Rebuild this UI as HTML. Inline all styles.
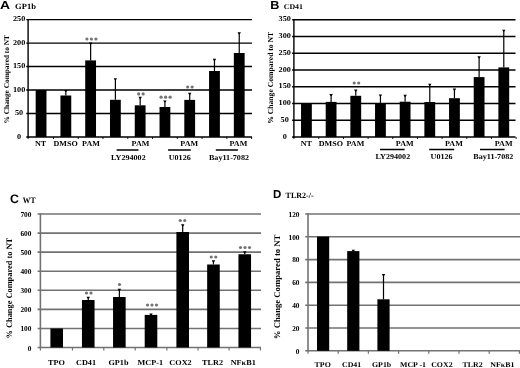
<!DOCTYPE html>
<html><head><meta charset="utf-8"><style>
html,body{margin:0;padding:0;background:#fff;}
body{width:520px;height:368px;overflow:hidden;}
svg{display:block;filter:grayscale(1);}
text{text-rendering:geometricPrecision;}
</style></head><body>
<svg width="520" height="368" viewBox="0 0 520 368">
<rect width="520" height="368" fill="#fff"/>
<line x1="26.30" y1="113.52" x2="252.00" y2="113.52" stroke="#000" stroke-width="1.4"/>
<line x1="26.30" y1="90.04" x2="252.00" y2="90.04" stroke="#000" stroke-width="1.4"/>
<line x1="26.30" y1="66.56" x2="252.00" y2="66.56" stroke="#000" stroke-width="1.4"/>
<line x1="26.30" y1="43.08" x2="252.00" y2="43.08" stroke="#000" stroke-width="1.4"/>
<line x1="26.30" y1="19.60" x2="252.00" y2="19.60" stroke="#000" stroke-width="1.4"/>
<line x1="28.10" y1="18.90" x2="28.10" y2="137.70" stroke="#000" stroke-width="1.4"/>
<line x1="26.30" y1="137.00" x2="252.00" y2="137.00" stroke="#000" stroke-width="1.4"/>
<line x1="28.10" y1="137.00" x2="28.10" y2="139.00" stroke="#000" stroke-width="0.9"/>
<line x1="53.47" y1="137.00" x2="53.47" y2="139.00" stroke="#000" stroke-width="0.9"/>
<line x1="78.23" y1="137.00" x2="78.23" y2="139.00" stroke="#000" stroke-width="0.9"/>
<line x1="103.01" y1="137.00" x2="103.01" y2="139.00" stroke="#000" stroke-width="0.9"/>
<line x1="127.78" y1="137.00" x2="127.78" y2="139.00" stroke="#000" stroke-width="0.9"/>
<line x1="152.54" y1="137.00" x2="152.54" y2="139.00" stroke="#000" stroke-width="0.9"/>
<line x1="177.31" y1="137.00" x2="177.31" y2="139.00" stroke="#000" stroke-width="0.9"/>
<line x1="202.08" y1="137.00" x2="202.08" y2="139.00" stroke="#000" stroke-width="0.9"/>
<line x1="226.85" y1="137.00" x2="226.85" y2="139.00" stroke="#000" stroke-width="0.9"/>
<line x1="251.62" y1="137.00" x2="251.62" y2="139.00" stroke="#000" stroke-width="0.9"/>
<text font-size="7.5" text-anchor="middle" font-weight="bold" fill="#000" font-family='"Liberation Serif", serif' transform="translate(19.10,138.57) scale(1.1,1)">0</text>
<text font-size="7.5" text-anchor="middle" font-weight="bold" fill="#000" font-family='"Liberation Serif", serif' transform="translate(19.10,115.09) scale(1.1,1)">50</text>
<text font-size="7.5" text-anchor="middle" font-weight="bold" fill="#000" font-family='"Liberation Serif", serif' transform="translate(19.10,91.61) scale(1.1,1)">100</text>
<text font-size="7.5" text-anchor="middle" font-weight="bold" fill="#000" font-family='"Liberation Serif", serif' transform="translate(19.10,68.13) scale(1.1,1)">150</text>
<text font-size="7.5" text-anchor="middle" font-weight="bold" fill="#000" font-family='"Liberation Serif", serif' transform="translate(19.10,44.66) scale(1.1,1)">200</text>
<text font-size="7.5" text-anchor="middle" font-weight="bold" fill="#000" font-family='"Liberation Serif", serif' transform="translate(19.10,21.17) scale(1.1,1)">250</text>
<rect x="35.68" y="90.00" width="10.80" height="47.00" fill="#000"/>
<line x1="65.85" y1="90.60" x2="65.85" y2="95.50" stroke="#000" stroke-width="1.2"/>
<path d="M64.15,89.90H67.55L66.45,91.80H65.25Z" fill="#000"/>
<rect x="60.45" y="95.50" width="10.80" height="41.50" fill="#000"/>
<line x1="90.62" y1="43.20" x2="90.62" y2="60.40" stroke="#000" stroke-width="1.2"/>
<path d="M88.92,42.50H92.32L91.22,44.40H90.02Z" fill="#000"/>
<rect x="85.22" y="60.40" width="10.80" height="76.60" fill="#000"/>
<line x1="115.39" y1="78.90" x2="115.39" y2="99.80" stroke="#000" stroke-width="1.2"/>
<path d="M113.69,78.20H117.09L115.99,80.10H114.79Z" fill="#000"/>
<rect x="109.99" y="99.80" width="10.80" height="37.20" fill="#000"/>
<line x1="140.16" y1="97.50" x2="140.16" y2="105.30" stroke="#000" stroke-width="1.2"/>
<path d="M138.46,96.80H141.86L140.76,98.70H139.56Z" fill="#000"/>
<rect x="134.76" y="105.30" width="10.80" height="31.70" fill="#000"/>
<line x1="164.93" y1="101.10" x2="164.93" y2="107.00" stroke="#000" stroke-width="1.2"/>
<path d="M163.23,100.40H166.63L165.53,102.30H164.33Z" fill="#000"/>
<rect x="159.53" y="107.00" width="10.80" height="30.00" fill="#000"/>
<line x1="189.70" y1="93.50" x2="189.70" y2="99.90" stroke="#000" stroke-width="1.2"/>
<path d="M188.00,92.80H191.40L190.30,94.70H189.10Z" fill="#000"/>
<rect x="184.30" y="99.90" width="10.80" height="37.10" fill="#000"/>
<line x1="214.47" y1="59.50" x2="214.47" y2="71.00" stroke="#000" stroke-width="1.2"/>
<path d="M212.77,58.80H216.17L215.07,60.70H213.87Z" fill="#000"/>
<rect x="209.07" y="71.00" width="10.80" height="66.00" fill="#000"/>
<line x1="239.24" y1="33.00" x2="239.24" y2="53.00" stroke="#000" stroke-width="1.2"/>
<path d="M237.54,32.30H240.94L239.84,34.20H238.64Z" fill="#000"/>
<rect x="233.84" y="53.00" width="10.80" height="84.00" fill="#000"/>
<text font-size="7.35" text-anchor="middle" font-weight="bold" font-family='"Liberation Serif", serif' transform="translate(6.80,79.20) rotate(-90) scale(1.0,1)" dy="2.43">% Change Compared to NT</text>
<text font-size="11.6" text-anchor="start" font-weight="bold" fill="#000" font-family='"Liberation Sans", sans-serif' transform="translate(0.10,8.90) scale(1.2,1)">A</text>
<text font-size="8.0" text-anchor="start" font-weight="bold" fill="#000" font-family='"Liberation Serif", serif' transform="translate(15.00,9.00) scale(1.07,1)">GP1b</text>
<text font-size="7.5" text-anchor="middle" font-weight="bold" fill="#000" font-family='"Liberation Serif", serif' transform="translate(40.50,146.07) scale(1.08,1)">NT</text>
<text font-size="7.5" text-anchor="middle" font-weight="bold" fill="#000" font-family='"Liberation Serif", serif' transform="translate(65.60,146.07) scale(1.08,1)">DMSO</text>
<text font-size="7.5" text-anchor="middle" font-weight="bold" fill="#000" font-family='"Liberation Serif", serif' transform="translate(91.00,146.07) scale(1.08,1)">PAM</text>
<text font-size="7.5" text-anchor="middle" font-weight="bold" fill="#000" font-family='"Liberation Serif", serif' transform="translate(140.50,146.07) scale(1.08,1)">PAM</text>
<text font-size="7.5" text-anchor="middle" font-weight="bold" fill="#000" font-family='"Liberation Serif", serif' transform="translate(189.30,146.07) scale(1.08,1)">PAM</text>
<text font-size="7.5" text-anchor="middle" font-weight="bold" fill="#000" font-family='"Liberation Serif", serif' transform="translate(238.40,146.07) scale(1.08,1)">PAM</text>
<line x1="116.60" y1="150.00" x2="138.50" y2="150.00" stroke="#000" stroke-width="1.5"/>
<text font-size="7.5" text-anchor="middle" font-weight="bold" fill="#000" font-family='"Liberation Serif", serif' transform="translate(128.30,160.17) scale(1.08,1)">LY294002</text>
<line x1="168.10" y1="150.00" x2="190.80" y2="150.00" stroke="#000" stroke-width="1.5"/>
<text font-size="7.5" text-anchor="middle" font-weight="bold" fill="#000" font-family='"Liberation Serif", serif' transform="translate(179.70,160.17) scale(1.08,1)">U0126</text>
<line x1="215.80" y1="150.00" x2="237.90" y2="150.00" stroke="#000" stroke-width="1.5"/>
<text font-size="7.5" text-anchor="middle" font-weight="bold" fill="#000" font-family='"Liberation Serif", serif' transform="translate(229.00,160.17) scale(1.08,1)">Bay11-7082</text>
<circle cx="86.90" cy="39.00" r="1.6" fill="#747474"/>
<circle cx="91.40" cy="39.00" r="1.6" fill="#747474"/>
<circle cx="95.90" cy="39.00" r="1.6" fill="#747474"/>
<circle cx="138.65" cy="93.90" r="1.6" fill="#747474"/>
<circle cx="143.15" cy="93.90" r="1.6" fill="#747474"/>
<circle cx="161.10" cy="97.20" r="1.6" fill="#747474"/>
<circle cx="165.60" cy="97.20" r="1.6" fill="#747474"/>
<circle cx="170.10" cy="97.20" r="1.6" fill="#747474"/>
<circle cx="187.65" cy="87.00" r="1.6" fill="#747474"/>
<circle cx="192.15" cy="87.00" r="1.6" fill="#747474"/>
<line x1="292.10" y1="120.25" x2="515.50" y2="120.25" stroke="#000" stroke-width="1.4"/>
<line x1="292.10" y1="103.50" x2="515.50" y2="103.50" stroke="#000" stroke-width="1.4"/>
<line x1="292.10" y1="86.75" x2="515.50" y2="86.75" stroke="#000" stroke-width="1.4"/>
<line x1="292.10" y1="70.00" x2="515.50" y2="70.00" stroke="#000" stroke-width="1.4"/>
<line x1="292.10" y1="53.25" x2="515.50" y2="53.25" stroke="#000" stroke-width="1.4"/>
<line x1="292.10" y1="36.50" x2="515.50" y2="36.50" stroke="#000" stroke-width="1.4"/>
<line x1="292.10" y1="19.75" x2="515.50" y2="19.75" stroke="#000" stroke-width="1.4"/>
<line x1="293.90" y1="19.05" x2="293.90" y2="137.70" stroke="#000" stroke-width="1.4"/>
<line x1="292.10" y1="137.00" x2="515.50" y2="137.00" stroke="#000" stroke-width="1.4"/>
<line x1="293.90" y1="137.00" x2="293.90" y2="139.00" stroke="#000" stroke-width="0.9"/>
<line x1="318.76" y1="137.00" x2="318.76" y2="139.00" stroke="#000" stroke-width="0.9"/>
<line x1="343.44" y1="137.00" x2="343.44" y2="139.00" stroke="#000" stroke-width="0.9"/>
<line x1="368.10" y1="137.00" x2="368.10" y2="139.00" stroke="#000" stroke-width="0.9"/>
<line x1="392.77" y1="137.00" x2="392.77" y2="139.00" stroke="#000" stroke-width="0.9"/>
<line x1="417.44" y1="137.00" x2="417.44" y2="139.00" stroke="#000" stroke-width="0.9"/>
<line x1="442.12" y1="137.00" x2="442.12" y2="139.00" stroke="#000" stroke-width="0.9"/>
<line x1="466.79" y1="137.00" x2="466.79" y2="139.00" stroke="#000" stroke-width="0.9"/>
<line x1="491.45" y1="137.00" x2="491.45" y2="139.00" stroke="#000" stroke-width="0.9"/>
<line x1="516.12" y1="137.00" x2="516.12" y2="139.00" stroke="#000" stroke-width="0.9"/>
<text font-size="7.5" text-anchor="middle" font-weight="bold" fill="#000" font-family='"Liberation Serif", serif' transform="translate(284.70,138.57) scale(1.1,1)">0</text>
<text font-size="7.5" text-anchor="middle" font-weight="bold" fill="#000" font-family='"Liberation Serif", serif' transform="translate(284.70,121.82) scale(1.1,1)">50</text>
<text font-size="7.5" text-anchor="middle" font-weight="bold" fill="#000" font-family='"Liberation Serif", serif' transform="translate(284.70,105.07) scale(1.1,1)">100</text>
<text font-size="7.5" text-anchor="middle" font-weight="bold" fill="#000" font-family='"Liberation Serif", serif' transform="translate(284.70,88.32) scale(1.1,1)">150</text>
<text font-size="7.5" text-anchor="middle" font-weight="bold" fill="#000" font-family='"Liberation Serif", serif' transform="translate(284.70,71.57) scale(1.1,1)">200</text>
<text font-size="7.5" text-anchor="middle" font-weight="bold" fill="#000" font-family='"Liberation Serif", serif' transform="translate(284.70,54.83) scale(1.1,1)">250</text>
<text font-size="7.5" text-anchor="middle" font-weight="bold" fill="#000" font-family='"Liberation Serif", serif' transform="translate(284.70,38.08) scale(1.1,1)">300</text>
<text font-size="7.5" text-anchor="middle" font-weight="bold" fill="#000" font-family='"Liberation Serif", serif' transform="translate(284.70,21.33) scale(1.1,1)">350</text>
<rect x="301.03" y="103.60" width="10.80" height="33.40" fill="#000"/>
<line x1="331.10" y1="94.80" x2="331.10" y2="101.90" stroke="#000" stroke-width="1.2"/>
<path d="M329.40,94.10H332.80L331.70,96.00H330.50Z" fill="#000"/>
<rect x="325.70" y="101.90" width="10.80" height="35.10" fill="#000"/>
<line x1="355.77" y1="90.30" x2="355.77" y2="95.80" stroke="#000" stroke-width="1.2"/>
<path d="M354.07,89.60H357.47L356.37,91.50H355.17Z" fill="#000"/>
<rect x="350.37" y="95.80" width="10.80" height="41.20" fill="#000"/>
<line x1="380.44" y1="95.10" x2="380.44" y2="103.00" stroke="#000" stroke-width="1.2"/>
<path d="M378.74,94.40H382.14L381.04,96.30H379.84Z" fill="#000"/>
<rect x="375.04" y="103.00" width="10.80" height="34.00" fill="#000"/>
<line x1="405.11" y1="95.50" x2="405.11" y2="101.70" stroke="#000" stroke-width="1.2"/>
<path d="M403.41,94.80H406.81L405.71,96.70H404.51Z" fill="#000"/>
<rect x="399.71" y="101.70" width="10.80" height="35.30" fill="#000"/>
<line x1="429.78" y1="84.40" x2="429.78" y2="102.00" stroke="#000" stroke-width="1.2"/>
<path d="M428.08,83.70H431.48L430.38,85.60H429.18Z" fill="#000"/>
<rect x="424.38" y="102.00" width="10.80" height="35.00" fill="#000"/>
<line x1="454.45" y1="89.20" x2="454.45" y2="98.20" stroke="#000" stroke-width="1.2"/>
<path d="M452.75,88.50H456.15L455.05,90.40H453.85Z" fill="#000"/>
<rect x="449.05" y="98.20" width="10.80" height="38.80" fill="#000"/>
<line x1="479.12" y1="57.00" x2="479.12" y2="77.10" stroke="#000" stroke-width="1.2"/>
<path d="M477.42,56.30H480.82L479.72,58.20H478.52Z" fill="#000"/>
<rect x="473.72" y="77.10" width="10.80" height="59.90" fill="#000"/>
<line x1="503.79" y1="30.40" x2="503.79" y2="67.40" stroke="#000" stroke-width="1.2"/>
<path d="M502.09,29.70H505.49L504.39,31.60H503.19Z" fill="#000"/>
<rect x="498.39" y="67.40" width="10.80" height="69.60" fill="#000"/>
<text font-size="7.65" text-anchor="middle" font-weight="bold" font-family='"Liberation Serif", serif' transform="translate(270.60,77.80) rotate(-90) scale(1.0,1)" dy="2.52">% Change Compared to NT</text>
<text font-size="11.5" text-anchor="start" font-weight="bold" fill="#000" font-family='"Liberation Sans", sans-serif' transform="translate(270.20,8.90) scale(1.1,1)">B</text>
<text font-size="7.3" text-anchor="start" font-weight="bold" fill="#000" font-family='"Liberation Serif", serif' transform="translate(283.70,9.00) scale(1.08,1)">CD41</text>
<text font-size="7.5" text-anchor="middle" font-weight="bold" fill="#000" font-family='"Liberation Serif", serif' transform="translate(306.30,145.67) scale(1.08,1)">NT</text>
<text font-size="7.5" text-anchor="middle" font-weight="bold" fill="#000" font-family='"Liberation Serif", serif' transform="translate(330.80,145.67) scale(1.08,1)">DMSO</text>
<text font-size="7.5" text-anchor="middle" font-weight="bold" fill="#000" font-family='"Liberation Serif", serif' transform="translate(355.40,145.67) scale(1.08,1)">PAM</text>
<text font-size="7.5" text-anchor="middle" font-weight="bold" fill="#000" font-family='"Liberation Serif", serif' transform="translate(404.80,145.67) scale(1.08,1)">PAM</text>
<text font-size="7.5" text-anchor="middle" font-weight="bold" fill="#000" font-family='"Liberation Serif", serif' transform="translate(453.90,145.67) scale(1.08,1)">PAM</text>
<text font-size="7.5" text-anchor="middle" font-weight="bold" fill="#000" font-family='"Liberation Serif", serif' transform="translate(503.70,145.67) scale(1.08,1)">PAM</text>
<line x1="380.00" y1="149.50" x2="404.60" y2="149.50" stroke="#000" stroke-width="1.5"/>
<text font-size="7.5" text-anchor="middle" font-weight="bold" fill="#000" font-family='"Liberation Serif", serif' transform="translate(392.80,158.97) scale(1.08,1)">LY294002</text>
<line x1="429.20" y1="149.50" x2="454.20" y2="149.50" stroke="#000" stroke-width="1.5"/>
<text font-size="7.5" text-anchor="middle" font-weight="bold" fill="#000" font-family='"Liberation Serif", serif' transform="translate(441.60,158.97) scale(1.08,1)">U0126</text>
<line x1="480.00" y1="149.50" x2="504.60" y2="149.50" stroke="#000" stroke-width="1.5"/>
<text font-size="7.5" text-anchor="middle" font-weight="bold" fill="#000" font-family='"Liberation Serif", serif' transform="translate(493.30,158.97) scale(1.08,1)">Bay11-7082</text>
<circle cx="354.20" cy="83.00" r="1.6" fill="#747474"/>
<circle cx="358.70" cy="83.00" r="1.6" fill="#747474"/>
<line x1="37.60" y1="328.43" x2="261.00" y2="328.43" stroke="#727272" stroke-width="1.6"/>
<line x1="37.60" y1="309.36" x2="261.00" y2="309.36" stroke="#727272" stroke-width="1.6"/>
<line x1="37.60" y1="290.29" x2="261.00" y2="290.29" stroke="#727272" stroke-width="1.6"/>
<line x1="37.60" y1="271.22" x2="261.00" y2="271.22" stroke="#727272" stroke-width="1.6"/>
<line x1="37.60" y1="252.15" x2="261.00" y2="252.15" stroke="#727272" stroke-width="1.6"/>
<line x1="37.60" y1="233.08" x2="261.00" y2="233.08" stroke="#727272" stroke-width="1.6"/>
<line x1="37.60" y1="214.01" x2="261.00" y2="214.01" stroke="#727272" stroke-width="1.6"/>
<line x1="40.40" y1="213.26" x2="40.40" y2="348.25" stroke="#727272" stroke-width="1.6"/>
<line x1="37.60" y1="347.50" x2="261.00" y2="347.50" stroke="#727272" stroke-width="1.6"/>
<line x1="40.40" y1="347.50" x2="40.40" y2="350.50" stroke="#727272" stroke-width="1.2"/>
<line x1="72.47" y1="347.50" x2="72.47" y2="350.50" stroke="#727272" stroke-width="1.2"/>
<line x1="103.80" y1="347.50" x2="103.80" y2="350.50" stroke="#727272" stroke-width="1.2"/>
<line x1="135.18" y1="347.50" x2="135.18" y2="350.50" stroke="#727272" stroke-width="1.2"/>
<line x1="166.85" y1="347.50" x2="166.85" y2="350.50" stroke="#727272" stroke-width="1.2"/>
<line x1="198.07" y1="347.50" x2="198.07" y2="350.50" stroke="#727272" stroke-width="1.2"/>
<line x1="229.10" y1="347.50" x2="229.10" y2="350.50" stroke="#727272" stroke-width="1.2"/>
<line x1="260.46" y1="347.50" x2="260.46" y2="350.50" stroke="#727272" stroke-width="1.2"/>
<text font-size="7.5" text-anchor="end" font-weight="bold" fill="#000" font-family='"Liberation Serif", serif' transform="translate(31.40,350.55) scale(0.98,1)">0</text>
<text font-size="7.5" text-anchor="end" font-weight="bold" fill="#000" font-family='"Liberation Serif", serif' transform="translate(31.40,331.48) scale(0.98,1)">100</text>
<text font-size="7.5" text-anchor="end" font-weight="bold" fill="#000" font-family='"Liberation Serif", serif' transform="translate(31.40,312.41) scale(0.98,1)">200</text>
<text font-size="7.5" text-anchor="end" font-weight="bold" fill="#000" font-family='"Liberation Serif", serif' transform="translate(31.40,293.34) scale(0.98,1)">300</text>
<text font-size="7.5" text-anchor="end" font-weight="bold" fill="#000" font-family='"Liberation Serif", serif' transform="translate(31.40,274.27) scale(0.98,1)">400</text>
<text font-size="7.5" text-anchor="end" font-weight="bold" fill="#000" font-family='"Liberation Serif", serif' transform="translate(31.40,255.20) scale(0.98,1)">500</text>
<text font-size="7.5" text-anchor="end" font-weight="bold" fill="#000" font-family='"Liberation Serif", serif' transform="translate(31.40,236.13) scale(0.98,1)">600</text>
<text font-size="7.5" text-anchor="end" font-weight="bold" fill="#000" font-family='"Liberation Serif", serif' transform="translate(31.40,217.06) scale(0.98,1)">700</text>
<rect x="50.40" y="328.50" width="12.60" height="19.00" fill="#000"/>
<line x1="88.25" y1="297.50" x2="88.25" y2="300.00" stroke="#000" stroke-width="1.2"/>
<path d="M86.55,296.80H89.95L88.85,298.70H87.65Z" fill="#000"/>
<rect x="81.95" y="300.00" width="12.60" height="47.50" fill="#000"/>
<line x1="119.35" y1="289.50" x2="119.35" y2="297.00" stroke="#000" stroke-width="1.2"/>
<path d="M117.65,288.80H121.05L119.95,290.70H118.75Z" fill="#000"/>
<rect x="113.05" y="297.00" width="12.60" height="50.50" fill="#000"/>
<line x1="151.00" y1="314.20" x2="151.00" y2="314.90" stroke="#000" stroke-width="1.2"/>
<path d="M149.30,313.50H152.70L151.60,315.40H150.40Z" fill="#000"/>
<rect x="144.70" y="314.90" width="12.60" height="32.60" fill="#000"/>
<line x1="182.70" y1="225.00" x2="182.70" y2="232.00" stroke="#000" stroke-width="1.2"/>
<path d="M181.00,224.30H184.40L183.30,226.20H182.10Z" fill="#000"/>
<rect x="176.40" y="232.00" width="12.60" height="115.50" fill="#000"/>
<line x1="213.45" y1="261.00" x2="213.45" y2="264.50" stroke="#000" stroke-width="1.2"/>
<path d="M211.75,260.30H215.15L214.05,262.20H212.85Z" fill="#000"/>
<rect x="207.15" y="264.50" width="12.60" height="83.00" fill="#000"/>
<line x1="244.75" y1="252.00" x2="244.75" y2="254.25" stroke="#000" stroke-width="1.2"/>
<path d="M243.05,251.30H246.45L245.35,253.20H244.15Z" fill="#000"/>
<rect x="238.45" y="254.25" width="12.60" height="93.25" fill="#000"/>
<text font-size="7.6" text-anchor="middle" font-weight="bold" fill="#000" font-family='"Liberation Serif", serif' transform="translate(56.40,364.81) scale(1.08,1)">TPO</text>
<text font-size="7.6" text-anchor="middle" font-weight="bold" fill="#000" font-family='"Liberation Serif", serif' transform="translate(86.00,364.81) scale(1.08,1)">CD41</text>
<text font-size="7.6" text-anchor="middle" font-weight="bold" fill="#000" font-family='"Liberation Serif", serif' transform="translate(118.50,364.81) scale(1.08,1)">GP1b</text>
<text font-size="7.6" text-anchor="middle" font-weight="bold" fill="#000" font-family='"Liberation Serif", serif' transform="translate(150.35,364.81) scale(1.08,1)">MCP-1</text>
<text font-size="7.6" text-anchor="middle" font-weight="bold" fill="#000" font-family='"Liberation Serif", serif' transform="translate(180.50,364.81) scale(1.08,1)">COX2</text>
<text font-size="7.6" text-anchor="middle" font-weight="bold" fill="#000" font-family='"Liberation Serif", serif' transform="translate(212.50,364.81) scale(1.08,1)">TLR2</text>
<text font-size="7.6" text-anchor="middle" font-weight="bold" fill="#000" font-family='"Liberation Serif", serif' transform="translate(243.20,364.81) scale(1.08,1)">NF&#954;B1</text>
<text font-size="8.35" text-anchor="middle" font-weight="bold" font-family='"Liberation Serif", serif' transform="translate(9.20,288.20) rotate(-90) scale(1.0,1)" dy="2.76">% Change Compared to NT</text>
<circle cx="86.50" cy="293.00" r="1.6" fill="#747474"/>
<circle cx="91.00" cy="293.00" r="1.6" fill="#747474"/>
<circle cx="119.50" cy="284.50" r="1.6" fill="#747474"/>
<circle cx="147.50" cy="305.00" r="1.6" fill="#747474"/>
<circle cx="152.00" cy="305.00" r="1.6" fill="#747474"/>
<circle cx="156.50" cy="305.00" r="1.6" fill="#747474"/>
<circle cx="180.25" cy="220.50" r="1.6" fill="#747474"/>
<circle cx="184.75" cy="220.50" r="1.6" fill="#747474"/>
<circle cx="211.25" cy="257.00" r="1.6" fill="#747474"/>
<circle cx="215.75" cy="257.00" r="1.6" fill="#747474"/>
<circle cx="240.50" cy="247.50" r="1.6" fill="#747474"/>
<circle cx="245.00" cy="247.50" r="1.6" fill="#747474"/>
<circle cx="249.50" cy="247.50" r="1.6" fill="#747474"/>
<text font-size="12.3" text-anchor="start" font-weight="bold" fill="#000" font-family='"Liberation Sans", sans-serif' transform="translate(10.00,203.00) scale(1.0,1)">C</text>
<text font-size="8.3" text-anchor="start" font-weight="bold" fill="#000" font-family='"Liberation Serif", serif' transform="translate(22.80,203.00) scale(0.92,1)">WT</text>
<line x1="305.20" y1="328.00" x2="520.00" y2="328.00" stroke="#727272" stroke-width="1.6"/>
<line x1="305.20" y1="305.20" x2="520.00" y2="305.20" stroke="#727272" stroke-width="1.6"/>
<line x1="305.20" y1="282.40" x2="520.00" y2="282.40" stroke="#727272" stroke-width="1.6"/>
<line x1="305.20" y1="259.60" x2="520.00" y2="259.60" stroke="#727272" stroke-width="1.6"/>
<line x1="305.20" y1="236.80" x2="520.00" y2="236.80" stroke="#727272" stroke-width="1.6"/>
<line x1="305.20" y1="214.00" x2="520.00" y2="214.00" stroke="#727272" stroke-width="1.6"/>
<line x1="308.00" y1="213.25" x2="308.00" y2="351.55" stroke="#727272" stroke-width="1.6"/>
<line x1="305.20" y1="350.80" x2="520.00" y2="350.80" stroke="#727272" stroke-width="1.6"/>
<line x1="308.00" y1="350.80" x2="308.00" y2="353.80" stroke="#727272" stroke-width="1.2"/>
<line x1="338.20" y1="350.80" x2="338.20" y2="353.80" stroke="#727272" stroke-width="1.2"/>
<line x1="368.40" y1="350.80" x2="368.40" y2="353.80" stroke="#727272" stroke-width="1.2"/>
<line x1="398.60" y1="350.80" x2="398.60" y2="353.80" stroke="#727272" stroke-width="1.2"/>
<line x1="428.80" y1="350.80" x2="428.80" y2="353.80" stroke="#727272" stroke-width="1.2"/>
<line x1="459.00" y1="350.80" x2="459.00" y2="353.80" stroke="#727272" stroke-width="1.2"/>
<line x1="489.20" y1="350.80" x2="489.20" y2="353.80" stroke="#727272" stroke-width="1.2"/>
<line x1="519.40" y1="350.80" x2="519.40" y2="353.80" stroke="#727272" stroke-width="1.2"/>
<text font-size="7.5" text-anchor="end" font-weight="bold" fill="#000" font-family='"Liberation Serif", serif' transform="translate(299.50,353.65) scale(0.98,1)">0</text>
<text font-size="7.5" text-anchor="end" font-weight="bold" fill="#000" font-family='"Liberation Serif", serif' transform="translate(299.50,330.85) scale(0.98,1)">20</text>
<text font-size="7.5" text-anchor="end" font-weight="bold" fill="#000" font-family='"Liberation Serif", serif' transform="translate(299.50,308.05) scale(0.98,1)">40</text>
<text font-size="7.5" text-anchor="end" font-weight="bold" fill="#000" font-family='"Liberation Serif", serif' transform="translate(299.50,285.25) scale(0.98,1)">60</text>
<text font-size="7.5" text-anchor="end" font-weight="bold" fill="#000" font-family='"Liberation Serif", serif' transform="translate(299.50,262.45) scale(0.98,1)">80</text>
<text font-size="7.5" text-anchor="end" font-weight="bold" fill="#000" font-family='"Liberation Serif", serif' transform="translate(299.50,239.65) scale(0.98,1)">100</text>
<text font-size="7.5" text-anchor="end" font-weight="bold" fill="#000" font-family='"Liberation Serif", serif' transform="translate(299.50,216.85) scale(0.98,1)">120</text>
<rect x="317.00" y="236.60" width="12.20" height="114.20" fill="#000"/>
<line x1="353.30" y1="250.40" x2="353.30" y2="251.10" stroke="#000" stroke-width="1.2"/>
<path d="M351.60,249.70H355.00L353.90,251.60H352.70Z" fill="#000"/>
<rect x="347.20" y="251.10" width="12.20" height="99.70" fill="#000"/>
<line x1="383.50" y1="274.80" x2="383.50" y2="299.30" stroke="#000" stroke-width="1.2"/>
<path d="M381.80,274.10H385.20L384.10,276.00H382.90Z" fill="#000"/>
<rect x="377.40" y="299.30" width="12.20" height="51.50" fill="#000"/>
<text font-size="7.3" text-anchor="middle" font-weight="bold" fill="#000" font-family='"Liberation Serif", serif' transform="translate(322.70,367.01) scale(1.08,1)">TPO</text>
<text font-size="7.3" text-anchor="middle" font-weight="bold" fill="#000" font-family='"Liberation Serif", serif' transform="translate(351.60,367.01) scale(1.08,1)">CD41</text>
<text font-size="7.3" text-anchor="middle" font-weight="bold" fill="#000" font-family='"Liberation Serif", serif' transform="translate(381.60,367.01) scale(1.08,1)">GP1b</text>
<text font-size="7.3" text-anchor="middle" font-weight="bold" fill="#000" font-family='"Liberation Serif", serif' transform="translate(413.00,367.01) scale(1.08,1)">MCP -1</text>
<text font-size="7.3" text-anchor="middle" font-weight="bold" fill="#000" font-family='"Liberation Serif", serif' transform="translate(441.90,367.01) scale(1.08,1)">COX2</text>
<text font-size="7.3" text-anchor="middle" font-weight="bold" fill="#000" font-family='"Liberation Serif", serif' transform="translate(472.60,367.01) scale(1.08,1)">TLR2</text>
<text font-size="7.3" text-anchor="middle" font-weight="bold" fill="#000" font-family='"Liberation Serif", serif' transform="translate(502.30,367.01) scale(1.08,1)">NF&#954;B1</text>
<text font-size="8.7" text-anchor="middle" font-weight="bold" font-family='"Liberation Serif", serif' transform="translate(277.60,286.90) rotate(-90) scale(1.0,1)" dy="2.87">% Change Compared to NT</text>
<text font-size="11.5" text-anchor="start" font-weight="bold" fill="#000" font-family='"Liberation Sans", sans-serif' transform="translate(273.00,197.70) scale(1.0,1)">D</text>
<text font-size="8.0" text-anchor="start" font-weight="bold" fill="#000" font-family='"Liberation Serif", serif' transform="translate(285.60,198.20) scale(1.0,1)">TLR2-/-</text>
</svg>
</body></html>
